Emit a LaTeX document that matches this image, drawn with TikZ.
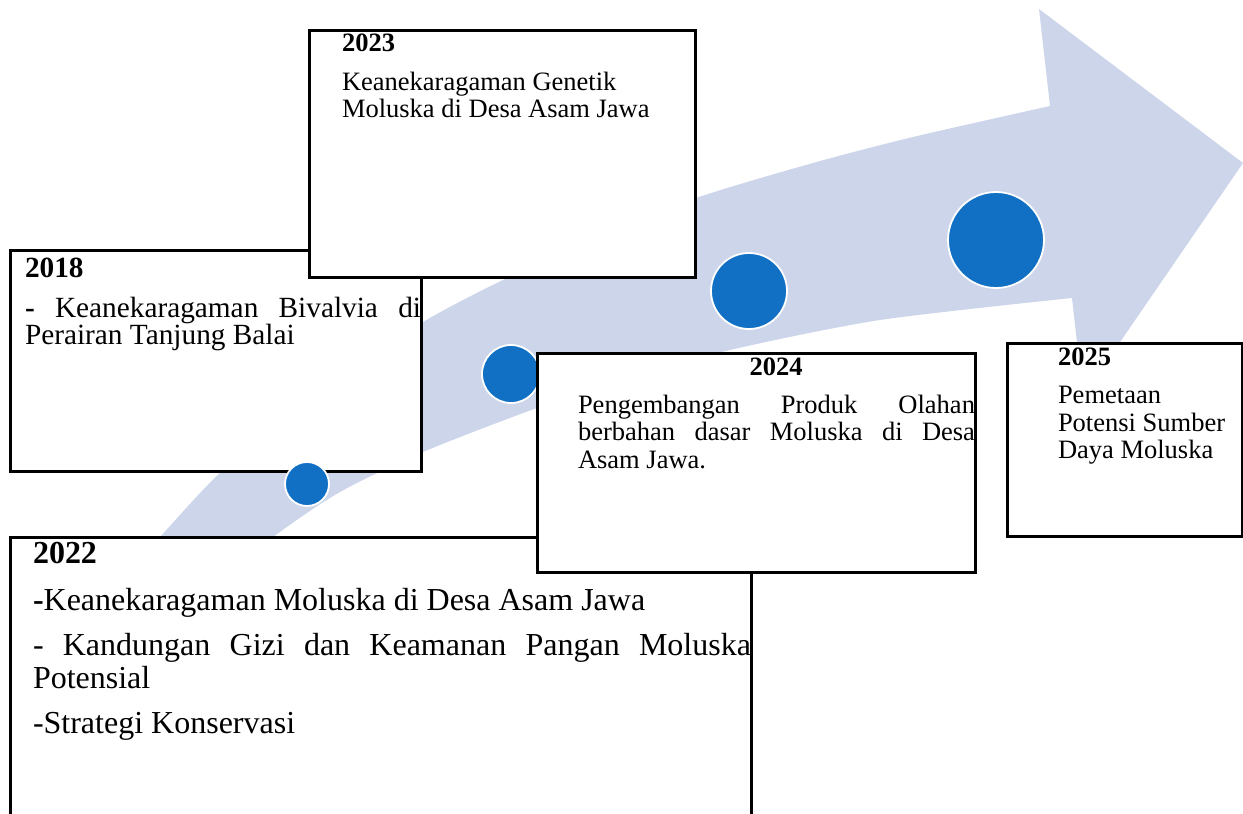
\documentclass[tikz,border=0pt]{standalone}
\usepackage{fontspec}
\setmainfont{Liberation Serif}
\definecolor{arrowfill}{HTML}{CDD5EA}
\definecolor{dotblue}{HTML}{1170C4}
\newcommand\fszA{\fontsize{29.3}{30}\selectfont}
\newcommand\fszB{\fontsize{26.5}{28}\selectfont}
\newcommand\fszC{\fontsize{32}{34}\selectfont}
\begin{document}
\begin{tikzpicture}[x=1pt,y=-1pt,
  box/.style={draw=black, line width=3pt, fill=white, rectangle, inner sep=0pt, outer sep=0pt, anchor=north west},
  dot/.style={circle, fill=dotblue, draw=white, line width=1.8pt, inner sep=0pt},
  txt/.style={anchor=base west, inner sep=0pt, outer sep=0pt}]
\useasboundingbox (0,0) rectangle (1243,814);
\clip (0,0) rectangle (1243,814);
% curved arrow
\fill[arrowfill] plot[smooth, tension=0.45] coordinates {(95,610) (160,537) (222,471) (320,389) (423,322) (503,280) (600,237) (696,198) (813,163) (913,137) (1050,106)}
  -- (1039,9) -- (1243,163) -- (1083,396) -- (1072,298)
  -- plot[smooth, tension=0.45] coordinates {(1072,298) (880,320) (730,350) (630,378) (537,408) (423,452) (340,492) (273,537) (180,610)} -- cycle;
% 2018
\node[box, minimum width=411pt, minimum height=221pt] (b18) at (10,250) {};
\node[txt, font=\fszA\bfseries] (h18) at (25,277) {2018};
\node[txt, font=\fszA] (l18a) at (25,317) {\makebox[396pt][s]{\textbf{-} Keanekaragaman Bivalvia di}};
\node[txt, font=\fszA] (l18b) at (25,344) {Perairan Tanjung Balai};
% dots
\node[dot, minimum size=44pt] (c1) at (307,484) {};
\node[dot, minimum size=58pt] (c2) at (511,374) {};
\node[dot, minimum size=76pt] (c3) at (749,291) {};
\node[dot, minimum size=96pt] (c4) at (996,240) {};
% 2023
\node[box, minimum width=386pt, minimum height=247pt] (b23) at (309,30) {};
\node[txt, font=\fszB\bfseries] (h23) at (342,51) {2023};
\node[txt, font=\fszB] (l23a) at (342,90) {Keanekaragaman Genetik};
\node[txt, font=\fszB] (l23b) at (342,117) {Moluska di Desa Asam Jawa};
% 2022
\node[box, minimum width=741pt, minimum height=300pt] (b22) at (10,537) {};
\node[txt, font=\fszC\bfseries] (h22) at (33,563) {2022};
\node[txt, font=\fszC] (l22a) at (33,610) {\textbf{-}Keanekaragaman Moluska di Desa Asam Jawa};
\node[txt, font=\fszC] (l22b) at (33,655) {\makebox[718pt][s]{- Kandungan Gizi dan Keamanan Pangan Moluska}};
\node[txt, font=\fszC] (l22c) at (33,688) {Potensial};
\node[txt, font=\fszC] (l22d) at (33,733) {-Strategi Konservasi};
% 2024
\node[box, minimum width=438pt, minimum height=219pt] (b24) at (537,353) {};
\node[anchor=base, inner sep=0pt, font=\fszB\bfseries] (h24) at (776,375) {2024};
\node[txt, font=\fszB] (l24a) at (578,413) {\makebox[397pt][s]{Pengembangan Produk Olahan}};
\node[txt, font=\fszB] (l24b) at (578,440) {\makebox[397pt][s]{berbahan dasar Moluska di Desa}};
\node[txt, font=\fszB] (l24c) at (578,468) {Asam Jawa.};
% 2025
\node[box, minimum width=235pt, minimum height=193pt] (b25) at (1007,343) {};
\node[txt, font=\fszB\bfseries] (h25) at (1058,365) {2025};
\node[txt, font=\fszB] (l25a) at (1058,403) {Pemetaan};
\node[txt, font=\fszB] (l25b) at (1058,431) {Potensi Sumber};
\node[txt, font=\fszB] (l25c) at (1058,458) {Daya Moluska};
\end{tikzpicture}
\end{document}
